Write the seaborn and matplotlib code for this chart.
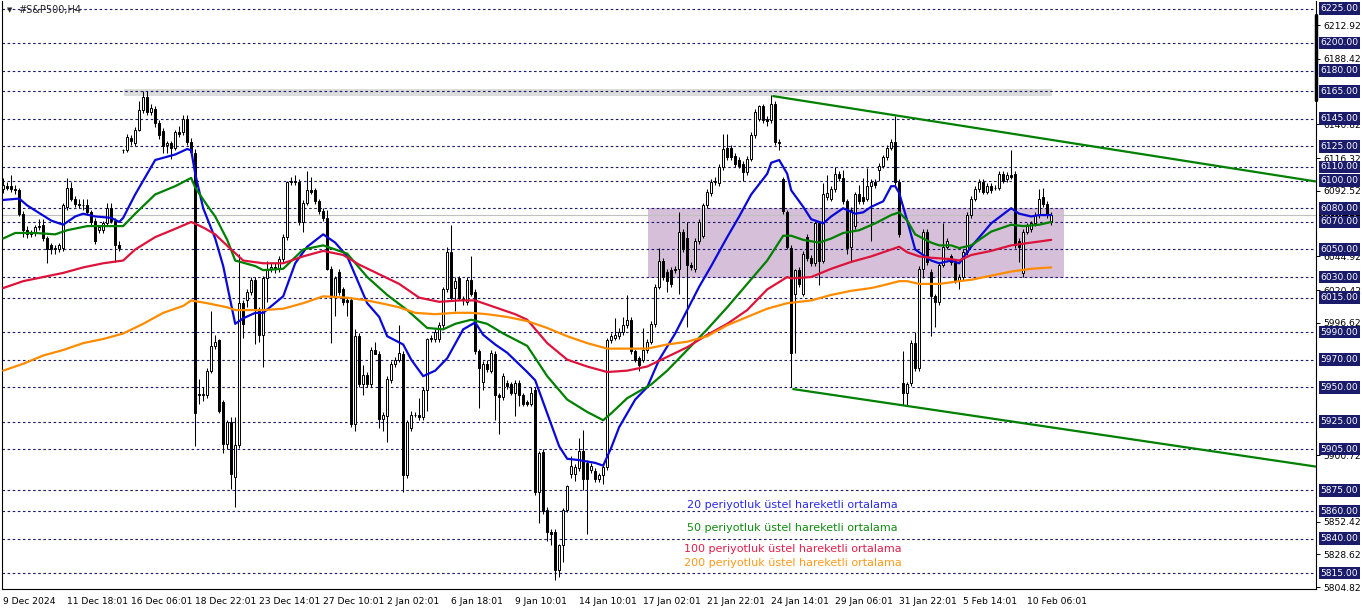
import numpy as np
import pandas as pd
import matplotlib
matplotlib.use("Agg")
import matplotlib.pyplot as plt
import seaborn as sns

sns.set_style("white")
plt.rcParams["font.family"] = ["DejaVu Sans"]

# --- candles (H4, one value per bar) ---
opens = [
    6094, 6096, 6096, 6094, 6093, 6076, 6064, 6061, 6062, 6066,
    6068, 6058, 6053, 6050, 6050, 6051, 6081, 6095, 6087, 6083,
    6082, 6082, 6077, 6071, 6064, 6064, 6069, 6080, 6071, 6053,
    6122, 6122, 6131, 6127, 6137, 6151, 6161, 6150, 6152, 6142,
    6136, 6126, 6127, 6124, 6135, 6135, 6145, 6128, 6120, 5945,
    5944, 5944, 5962, 5980, 5984, 5939, 5909, 5925, 5885, 5908,
    6011, 6013, 6019, 6028, 6006, 5988, 6029, 6036, 6037, 6036,
    6043, 6059, 6099, 6100, 6099, 6070, 6084, 6093, 6093, 6085,
    6078, 6073, 6036, 6016, 6034, 6021, 6013, 6013, 5923, 5987,
    5952, 5959, 5952, 5977, 5974, 5927, 5929, 5955, 5967, 5970,
    5974, 5886, 5920, 5930, 5930, 5928, 5948, 5985, 5985, 5985,
    5995, 6021, 6048, 6022, 6029, 6014, 6012, 6028, 6019, 5976,
    5954, 5967, 5962, 5974, 5944, 5943, 5953, 5952, 5946, 5953,
    5944, 5939, 5938, 5948, 5874, 5903, 5861, 5845, 5845, 5817,
    5835, 5861, 5887, 5887, 5891, 5904, 5895, 5890, 5889, 5883,
    5886, 5892, 5984, 5986, 5987, 5990, 5995, 5999, 5976, 5971,
    5970, 5977, 5983, 5996, 6023, 6042, 6034, 6035, 6036, 6036,
    6063, 6058, 6039, 6036, 6056, 6060, 6082, 6091, 6099, 6098,
    6110, 6124, 6124, 6118, 6115, 6112, 6106, 6116, 6133, 6145,
    6154, 6145, 6144, 6156, 6128, 6101, 6077, 6051, 6018, 6035,
    6018, 6059, 6044, 6040, 6069, 6042, 6088, 6087, 6094, 6105,
    6102, 6085, 6052, 6067, 6090, 6088, 6087, 6096, 6099, 6108,
    6111, 6117, 6124, 6128, 6099, 5953, 5946, 5953, 5982, 5964,
    6036, 6063, 6034, 6016, 6012, 6039, 6052, 6045, 6041, 6027,
    6030, 6048, 6075, 6087, 6094, 6099, 6092, 6096, 6095, 6095,
    6105, 6101, 6104, 6105, 6056, 6033, 6063, 6065, 6069, 6075,
    6088, 6083, 6070,
]
highs = [
    6102, 6099, 6104, 6097, 6095, 6078, 6067, 6064, 6068, 6072,
    6072, 6060, 6055, 6053, 6055, 6084, 6102, 6099, 6089, 6087,
    6087, 6087, 6079, 6073, 6068, 6071, 6084, 6084, 6073, 6056,
    6123, 6134, 6133, 6139, 6158, 6165, 6165, 6156, 6154, 6144,
    6138, 6129, 6129, 6137, 6140, 6148, 6148, 6131, 6123, 5956,
    5950, 5964, 6005, 5988, 5985, 5941, 5926, 5928, 5928, 6047,
    6013, 6021, 6030, 6030, 6008, 6031, 6042, 6040, 6040, 6045,
    6061, 6100, 6103, 6104, 6101, 6086, 6107, 6103, 6095, 6087,
    6080, 6079, 6038, 6031, 6036, 6023, 6015, 6015, 5992, 5989,
    5966, 5961, 5979, 5983, 5976, 5932, 5958, 5969, 5972, 5995,
    5976, 5926, 5933, 5932, 5942, 5950, 5986, 5988, 5992, 5997,
    6023, 6052, 6068, 6030, 6031, 6016, 6030, 6045, 6021, 5978,
    5969, 5970, 5977, 5976, 5946, 5960, 5955, 5954, 5955, 5955,
    5946, 5941, 5950, 5950, 5904, 5905, 5863, 5847, 5847, 5836,
    5862, 5879, 5900, 5894, 5913, 5919, 5897, 5895, 5891, 5888,
    5894, 5986, 5989, 6000, 5993, 6001, 6017, 6001, 5978, 5973,
    5993, 5985, 5998, 6025, 6051, 6044, 6036, 6037, 6038, 6077,
    6065, 6070, 6041, 6058, 6072, 6084, 6094, 6101, 6103, 6112,
    6134, 6134, 6126, 6120, 6117, 6114, 6118, 6135, 6152, 6155,
    6156, 6147, 6162, 6158, 6130, 6103, 6079, 6053, 6036, 6037,
    6049, 6061, 6046, 6071, 6071, 6098, 6104, 6096, 6110, 6107,
    6108, 6087, 6081, 6092, 6097, 6102, 6109, 6101, 6101, 6113,
    6119, 6126, 6130, 6147, 6101, 5976, 5954, 5984, 5990, 6038,
    6065, 6065, 6036, 6018, 6041, 6069, 6058, 6047, 6043, 6032,
    6050, 6077, 6089, 6096, 6101, 6101, 6098, 6098, 6097, 6107,
    6107, 6106, 6122, 6107, 6058, 6065, 6069, 6071, 6077, 6094,
    6095, 6085, 6077,
]
lows = [
    6091, 6093, 6092, 6090, 6074, 6059, 6058, 6059, 6060, 6064,
    6056, 6040, 6047, 6047, 6048, 6049, 6079, 6085, 6081, 6080,
    6079, 6075, 6067, 6054, 6062, 6062, 6067, 6069, 6041, 6049,
    6120, 6121, 6126, 6125, 6136, 6149, 6148, 6148, 6139, 6130,
    6120, 6120, 6116, 6122, 6132, 6133, 6126, 6118, 5907, 5938,
    5940, 5942, 5960, 5978, 5931, 5902, 5905, 5876, 5863, 5906,
    5986, 6008, 6017, 5981, 5983, 5965, 6012, 6034, 6033, 6034,
    6041, 6057, 6097, 6097, 6068, 6063, 6082, 6090, 6083, 6076,
    6071, 6035, 5982, 6002, 6017, 6010, 6002, 5921, 5918, 5950,
    5944, 5950, 5950, 5974, 5920, 5918, 5910, 5953, 5965, 5968,
    5874, 5884, 5918, 5928, 5926, 5926, 5933, 5983, 5983, 5983,
    5993, 6019, 6013, 6005, 6013, 6010, 6010, 6016, 5974, 5935,
    5948, 5961, 5960, 5926, 5916, 5941, 5949, 5944, 5929, 5936,
    5936, 5936, 5936, 5872, 5851, 5858, 5838, 5835, 5810, 5812,
    5823, 5859, 5884, 5882, 5889, 5875, 5843, 5888, 5881, 5881,
    5880, 5890, 5982, 5984, 5985, 5988, 5993, 5974, 5968, 5962,
    5968, 5975, 5981, 5994, 6021, 6028, 6019, 6023, 6033, 6018,
    6048, 5994, 6035, 6034, 6054, 6058, 6080, 6089, 6097, 6096,
    6108, 6115, 6115, 6110, 6109, 6100, 6104, 6114, 6131, 6143,
    6142, 6140, 6142, 6126, 6122, 6076, 6050, 5950, 5975, 6023,
    6016, 6042, 6038, 6038, 6024, 6040, 6086, 6085, 6092, 6100,
    6083, 6047, 6041, 6065, 6083, 6083, 6085, 6056, 6095, 6100,
    6109, 6115, 6122, 6097, 6059, 5937, 5937, 5951, 5962, 5962,
    6029, 6039, 5987, 5994, 6010, 6037, 6050, 6039, 6026, 6021,
    6028, 6046, 6073, 6085, 6092, 6090, 6090, 6091, 6093, 6093,
    6098, 6099, 6101, 6051, 6041, 6030, 6061, 6063, 6067, 6073,
    6081, 6073, 6068,
]
closes = [
    6097, 6095, 6094, 6093, 6076, 6064, 6061, 6062, 6066, 6067,
    6058, 6050, 6050, 6051, 6053, 6082, 6095, 6087, 6083, 6082,
    6082, 6077, 6070, 6056, 6066, 6069, 6080, 6071, 6053, 6051,
    6122, 6132, 6129, 6137, 6151, 6161, 6150, 6153, 6142, 6133,
    6125, 6127, 6124, 6135, 6134, 6145, 6128, 6121, 5931, 5944,
    5945, 5962, 5980, 5983, 5933, 5909, 5925, 5887, 5908, 6011,
    5996, 6019, 6028, 6006, 5988, 6029, 6036, 6037, 6036, 6043,
    6059, 6099, 6100, 6099, 6070, 6084, 6093, 6092, 6085, 6078,
    6073, 6036, 6016, 6029, 6019, 6012, 6012, 5923, 5987, 5952,
    5959, 5952, 5977, 5974, 5927, 5930, 5956, 5967, 5970, 5975,
    5886, 5925, 5930, 5930, 5928, 5948, 5985, 5986, 5990, 5995,
    6021, 6048, 6015, 6027, 6015, 6013, 6028, 6018, 5976, 5964,
    5967, 5963, 5975, 5944, 5943, 5958, 5951, 5946, 5953, 5944,
    5938, 5938, 5946, 5874, 5902, 5860, 5845, 5843, 5817, 5835,
    5861, 5878, 5893, 5892, 5904, 5883, 5883, 5893, 5883, 5886,
    5892, 5984, 5987, 5988, 5990, 5995, 5999, 5976, 5970, 5966,
    5977, 5983, 5996, 6023, 6042, 6030, 6027, 6025, 6035, 6063,
    6050, 6039, 6037, 6056, 6070, 6082, 6092, 6099, 6100, 6110,
    6123, 6117, 6117, 6112, 6111, 6106, 6116, 6133, 6150, 6154,
    6144, 6143, 6156, 6128, 6127, 6078, 6052, 5975, 6035, 6025,
    6047, 6044, 6040, 6069, 6042, 6090, 6091, 6094, 6105, 6102,
    6085, 6051, 6079, 6090, 6085, 6085, 6096, 6099, 6097, 6111,
    6117, 6124, 6128, 6099, 6061, 5946, 5952, 5982, 5964, 6036,
    6063, 6041, 6016, 6012, 6039, 6052, 6056, 6041, 6028, 6030,
    6048, 6075, 6087, 6094, 6099, 6092, 6096, 6093, 6095, 6105,
    6100, 6104, 6103, 6053, 6052, 6063, 6067, 6069, 6075, 6087,
    6083, 6075, 6075,
]

# --- moving averages (bar index, value) ---
ema20_bar = [0, 4, 6, 12, 15, 18, 20, 23, 27, 29, 30, 33, 36, 38, 43, 46, 47, 48, 50, 53,
             55, 58, 60, 63, 65, 70, 73, 76, 80, 83, 86, 91, 94, 96, 100, 102, 105, 108, 111, 115,
             118, 120, 123, 126, 131, 133, 136, 139, 141, 144, 148, 150, 152, 154, 158, 161, 164, 168, 171, 174,
             177, 181, 184, 187, 191, 192, 194, 196, 197, 200, 202, 205, 207, 210, 213, 215, 217, 220, 222, 223,
             224, 226, 228, 232, 234, 237, 239, 242, 247, 252, 254, 257, 259, 262]
ema20_val = [6086, 6087, 6082, 6071, 6068, 6074, 6076, 6074, 6073, 6070, 6073, 6090, 6105, 6115, 6119, 6123, 6122, 6105, 6080, 6058,
             6038, 5996, 6000, 6004, 6004, 6016, 6040, 6052, 6061, 6055, 6045, 6011, 6001, 5987, 5981, 5970, 5958, 5962, 5971, 5992,
             5997, 5988, 5981, 5975, 5961, 5955, 5931, 5907, 5898, 5897, 5895, 5893, 5906, 5921, 5941, 5950, 5970, 5989, 6006, 6023,
             6038, 6059, 6074, 6090, 6105, 6113, 6115, 6105, 6093, 6081, 6072, 6069, 6074, 6080, 6076, 6077, 6081, 6085, 6096, 6096,
             6091, 6071, 6050, 6042, 6040, 6042, 6040, 6052, 6069, 6080, 6076, 6074, 6075, 6075]

ema50_bar = [0, 3, 8, 13, 16, 21, 26, 30, 33, 38, 43, 47, 48, 51, 53, 56, 58, 63, 65, 70,
             75, 80, 86, 91, 96, 101, 106, 110, 113, 117, 121, 125, 131, 136, 141, 146, 150, 152, 156, 159,
             162, 166, 171, 176, 181, 186, 191, 195, 197, 200, 204, 207, 210, 214, 218, 222, 224, 226, 228, 232,
             234, 237, 239, 242, 247, 252, 255, 259, 262]
ema50_val = [6058, 6062, 6062, 6061, 6064, 6067, 6067, 6067, 6076, 6090, 6096, 6102, 6095, 6082, 6074, 6057, 6042, 6038, 6035, 6036,
             6050, 6053, 6047, 6030, 6017, 6006, 5993, 5992, 5996, 5999, 5996, 5989, 5980, 5958, 5941, 5932, 5926, 5931, 5942, 5947,
             5952, 5962, 5977, 5992, 6008, 6025, 6042, 6060, 6060, 6057, 6055, 6058, 6062, 6064, 6069, 6075, 6077, 6071, 6061, 6055,
             6053, 6053, 6051, 6053, 6063, 6068, 6067, 6068, 6070]

ema100_bar = [0, 5, 10, 15, 20, 25, 30, 33, 38, 43, 47, 50, 53, 57, 60, 65, 70, 75, 80, 85,
              89, 94, 99, 104, 109, 114, 118, 123, 128, 131, 136, 141, 146, 151, 156, 161, 166, 171, 176, 181,
              186, 191, 196, 197, 202, 207, 212, 217, 220, 224, 226, 229, 232, 237, 239, 242, 247, 252, 257, 262]
ema100_val = [6022, 6027, 6030, 6033, 6037, 6040, 6042, 6050, 6059, 6065, 6070, 6066, 6061, 6050, 6042, 6040, 6040, 6045, 6049, 6046,
              6039, 6032, 6025, 6015, 6012, 6013, 6013, 6008, 6003, 5999, 5982, 5970, 5965, 5961, 5962, 5965, 5972, 5979, 5988, 5996,
              6006, 6021, 6030, 6029, 6030, 6036, 6041, 6045, 6048, 6052, 6048, 6045, 6044, 6043, 6042, 6046, 6049, 6053, 6055, 6057]

ema200_bar = [0, 5, 10, 15, 20, 25, 30, 35, 40, 45, 47, 51, 56, 58, 65, 70, 75, 80, 86, 91,
              96, 99, 103, 108, 113, 117, 121, 126, 131, 136, 141, 146, 151, 156, 161, 166, 171, 176, 181, 186,
              191, 196, 202, 207, 212, 217, 220, 224, 226, 229, 234, 239, 242, 247, 252, 257, 262]
ema200_val = [5962, 5967, 5973, 5977, 5982, 5985, 5989, 5996, 6004, 6009, 6013, 6011, 6008, 6006, 6006, 6007, 6011, 6016, 6015, 6013,
              6010, 6008, 6004, 6003, 6004, 6004, 6003, 6001, 5998, 5993, 5987, 5982, 5978, 5978, 5978, 5981, 5983, 5987, 5995, 6001,
              6007, 6011, 6013, 6017, 6020, 6022, 6024, 6027, 6027, 6025, 6025, 6027, 6028, 6031, 6034, 6036, 6037]

# --- axis text ---
date_bars = [0, 16, 32, 48, 64, 80, 96, 112, 128, 144, 160, 176, 192, 208, 224, 240, 256]
date_labels = ["9 Dec 2024", "11 Dec 18:01", "16 Dec 06:01", "18 Dec 22:01", "23 Dec 14:01",
               "27 Dec 10:01", "2 Jan 02:01", "6 Jan 18:01", "9 Jan 10:01", "14 Jan 10:01",
               "17 Jan 02:01", "21 Jan 22:01", "24 Jan 14:01", "29 Jan 06:01", "31 Jan 22:01",
               "5 Feb 14:01", "10 Feb 06:01"]
# scale values that stay readable next to the level labels
scale_ticks = [6212.92, 6188.42, 6140.82, 6116.32, 6092.52, 6044.92, 6020.42,
               5996.62, 5900.72, 5852.42, 5828.62, 5804.82]
levels = [6225, 6200, 6180, 6165, 6145, 6125, 6110, 6100, 6080, 6070, 6050,
          6030, 6015, 5990, 5970, 5950, 5925, 5905, 5875, 5860, 5840, 5815]
bid = 6074.77

# objects drawn on the chart: (bar, price) pairs
zone_bars, zone_prices = [161.3, 265.3], [6029.5, 6080.5]
top_band_bars, top_band_prices = [30.3, 262.3], [6161.8, 6166.8]
upper_chan_bars, upper_chan_prices = [192.3, 328.2], [6161.5, 6099.4]
lower_chan_bars, lower_chan_prices = [197.3, 328.2], [5948.7, 5892.3]

legend_texts = ["20 periyotluk üstel hareketli ortalama", "50 periyotluk üstel hareketli ortalama",
                "100 periyotluk üstel hareketli ortalama", "200 periyotluk üstel hareketli ortalama"]
legend_prices = [5864.4, 5847.7, 5832.4, 5822.3]

NAVY = "#1b1b6b"
ema_colors = ["#0a0ad8", "#008000", "#dc143c", "#ff8c00"]
text_colors = ["#2a2ae6", "#108a10", "#e0204a", "#ff9a1a"]

fig = plt.figure(figsize=(13.62, 6.11), dpi=100)
ax = fig.add_axes([2 / 1362, 22 / 611, 1314 / 1362, 588 / 611])
ax.set_xlim(-0.3, 328.2)
ax.set_ylim(5803.4, 6230.5)

# background objects
ax.fill_between(zone_bars, zone_prices[0], zone_prices[1], color="#d6bfd8", lw=0, zorder=0.5)
ax.fill_between(top_band_bars, top_band_prices[0], top_band_prices[1], color="#dcdcdc", lw=0, zorder=0.6)
for lv in levels:
    ax.axhline(lv, color=NAVY, lw=0.8, dashes=(2.3, 2.3), zorder=0.8)
ax.axhline(bid, color="#c0c0c0", lw=0.8, zorder=0.7)

# candles
o = np.array(opens, float)
h = np.array(highs, float)
l = np.array(lows, float)
c = np.array(closes, float)
x = np.arange(len(c))
up = c >= o
ax.vlines(x, l, h, color="black", lw=0.75, zorder=2)
ax.bar(x[up], (c - o)[up], bottom=o[up], width=0.55, color="white", edgecolor="black", lw=0.7, zorder=2.1)
ax.bar(x[~up], (o - c)[~up], bottom=c[~up], width=0.55, color="black", edgecolor="black", lw=0.7, zorder=2.1)

# moving averages
emas = [(ema20_bar, ema20_val), (ema50_bar, ema50_val), (ema100_bar, ema100_val), (ema200_bar, ema200_val)]
for (bars, vals), col in zip(emas, ema_colors):
    d = pd.DataFrame({"bar": bars, "ema": vals})
    sns.lineplot(data=d, x="bar", y="ema", color=col, lw=1.6, ax=ax, zorder=3,
                 estimator=None, sort=False, legend=False)

# channel
ax.plot(upper_chan_bars, upper_chan_prices, color="#008000", lw=1.6, zorder=3.2, solid_capstyle="butt")
ax.plot(lower_chan_bars, lower_chan_prices, color="#008000", lw=1.6, zorder=3.2, solid_capstyle="butt")

for txt, p, col in zip(legend_texts, legend_prices, text_colors):
    ax.text(197.3, p, txt, color=col, fontsize=8, ha="center", va="center", zorder=4)

ax.text(0.0122, 0.984, "#S&P500,H4", transform=ax.transAxes, fontsize=7, va="center", ha="left")
ax.text(0.004, 0.984, "▼", transform=ax.transAxes, fontsize=5, va="center", ha="left")

# axes look
ax.set_xlabel("")
ax.set_ylabel("")
for s in ["left", "bottom", "right"]:
    ax.spines[s].set_color("black")
    ax.spines[s].set_linewidth(0.8)
ax.spines["top"].set_visible(False)
ax.set_xticks(date_bars)
ax.set_xticklabels(date_labels, ha="left")
ax.tick_params(axis="x", direction="out", length=4, width=0.7, pad=1.5, labelsize=6.6, colors="black")
ax.yaxis.tick_right()
ax.set_yticks(scale_ticks)
ax.set_yticklabels([f"{v:.2f}" for v in scale_ticks])
ax.tick_params(axis="y", direction="out", length=3, width=0.7, pad=2, labelsize=6.6, colors="black")

# price labels on the scale
ax.annotate(f"{bid:.2f}", xy=(1, bid), xycoords=("axes fraction", "data"), xytext=(3.2, 0),
            textcoords="offset points", fontsize=6.6, color="white", va="center", ha="left",
            bbox=dict(boxstyle="square,pad=0.2", fc="black", ec="none"), annotation_clip=False, zorder=5)
for lv in levels:
    ax.annotate(f"{lv:.2f}", xy=(1, lv), xycoords=("axes fraction", "data"), xytext=(3.2, 0),
                textcoords="offset points", fontsize=6.6, color="white", va="center", ha="left",
                bbox=dict(boxstyle="square,pad=0.2", fc=NAVY, ec="none"), annotation_clip=False, zorder=6)

# scroll marker at the right edge
ax.plot([1, 1], [0.832, 0.976], transform=ax.transAxes, color="black", lw=2.5, clip_on=False, zorder=6)

fig.savefig("out.png", dpi=100, facecolor="white")
